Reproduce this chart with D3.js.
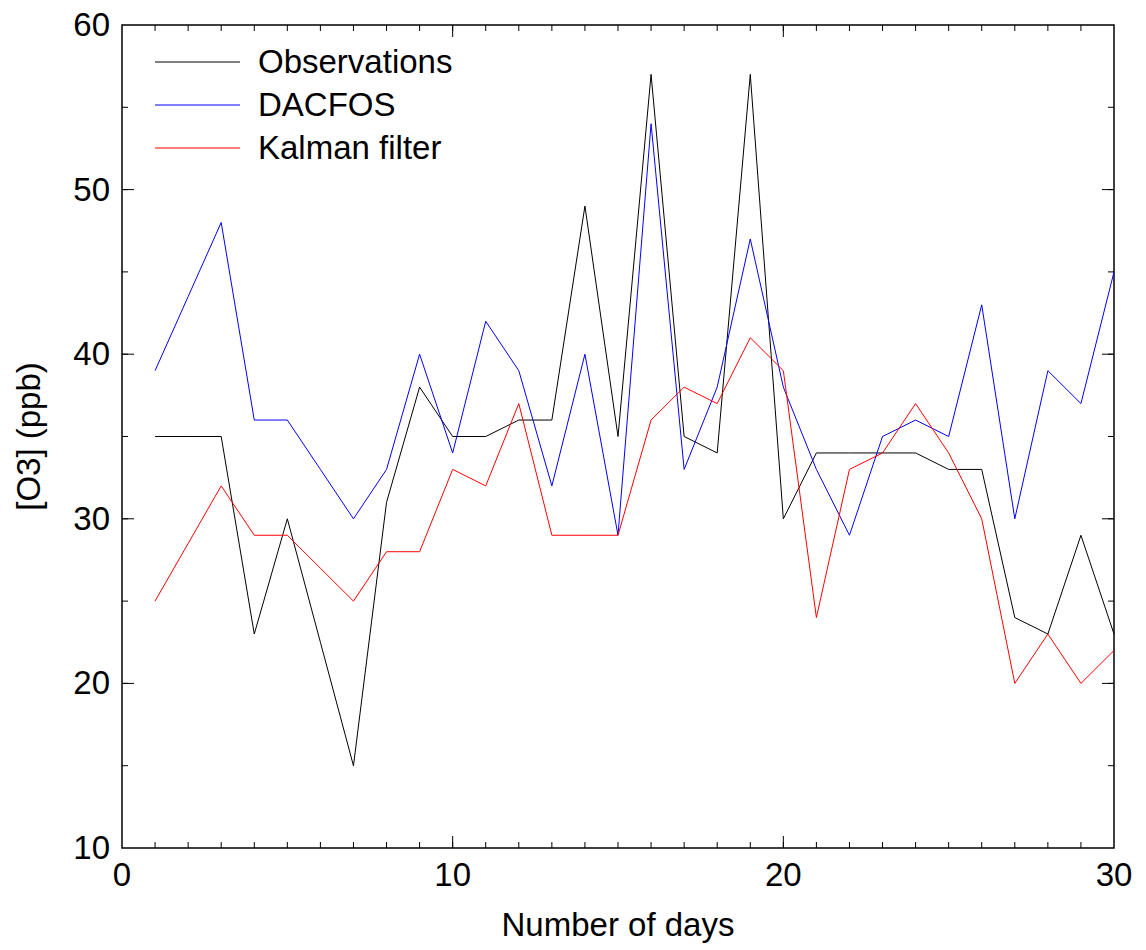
<!DOCTYPE html>
<html><head><meta charset="utf-8">
<script src="https://cdnjs.cloudflare.com/ajax/libs/d3/7.8.5/d3.min.js"></script>
<style>body{margin:0;background:#fff}text{font-family:"Liberation Sans",Arial,sans-serif}</style>
</head><body><svg width="1146" height="950"></svg>
<script>
var days = d3.range(1, 31);
var observations = [35,35,35,23,30,22.5,15,31,38,35,35,36,36,49,35,57,35,34,57,30,34,34,34,34,33,33,24,23,29,23];
var dacfos = [39,43.5,48,36,36,33,30,33,40,34,42,39,32,40,29,54,33,38,47,38,33,29,35,36,35,43,30,39,37,45];
var kalman = [25,28.5,32,29,29,27,25,28,28,33,32,37,29,29,29,36,38,37,41,39,24,33,34,37,34,30,20,23,20,22];
var seriesNames = ["Observations", "DACFOS", "Kalman filter"];
var colors = ["#000", "#0000ff", "#ff0000"];

var svg = d3.select("svg");
var L = 122, R = 1114, T = 25, B = 848;
var x = d3.scaleLinear().domain([0, 30]).range([L, R]);
var y = d3.scaleLinear().domain([10, 60]).range([B, T]);
var FS = 33;

svg.append("rect").attr("x", L).attr("y", T).attr("width", R - L).attr("height", B - T)
  .attr("fill", "none").attr("stroke", "#000").attr("stroke-width", 1.5);

// inward ticks on all sides
function ticks(axis, scale, vals, len) {
  vals.forEach(v => {
    var p = scale(v);
    if (axis == "x") {
      svg.append("line").attr("x1", p).attr("x2", p).attr("y1", B).attr("y2", B - len).attr("stroke", "#000");
      svg.append("line").attr("x1", p).attr("x2", p).attr("y1", T).attr("y2", T + len).attr("stroke", "#000");
    } else {
      svg.append("line").attr("y1", p).attr("y2", p).attr("x1", L).attr("x2", L + len).attr("stroke", "#000");
      svg.append("line").attr("y1", p).attr("y2", p).attr("x1", R).attr("x2", R - len).attr("stroke", "#000");
    }
  });
}
ticks("x", x, d3.range(1, 30), 6);
ticks("x", x, [10, 20], 12);
ticks("y", y, d3.range(15, 60, 5), 6);
ticks("y", y, [20, 30, 40, 50], 12);

[0, 10, 20, 30].forEach(v => svg.append("text").attr("x", x(v)).attr("y", B + 38)
  .attr("text-anchor", "middle").attr("font-size", FS).text(v));
[10, 20, 30, 40, 50, 60].forEach(v => svg.append("text").attr("x", L - 12).attr("y", y(v) + 11)
  .attr("text-anchor", "end").attr("font-size", FS).text(v));

svg.append("text").attr("x", (L + R) / 2).attr("y", 936).attr("text-anchor", "middle")
  .attr("font-size", FS).text("Number of days");
svg.append("text").attr("transform", "translate(40," + (T + B) / 2 + ") rotate(-90)")
  .attr("text-anchor", "middle").attr("font-size", FS).text("[O3] (ppb)");

var line = d3.line().x((d, i) => x(days[i])).y(d => y(d));
[observations, dacfos, kalman].forEach((s, k) => {
  svg.append("path").attr("d", line(s)).attr("fill", "none").attr("stroke", colors[k]).attr("stroke-width", 1);
});

seriesNames.forEach((n, k) => {
  var ly = 62 + k * 43;
  svg.append("line").attr("x1", 155).attr("x2", 240).attr("y1", ly).attr("y2", ly).attr("stroke", colors[k]);
  svg.append("text").attr("x", 258).attr("y", ly + 11).attr("font-size", FS).text(n);
});
</script></body></html>
